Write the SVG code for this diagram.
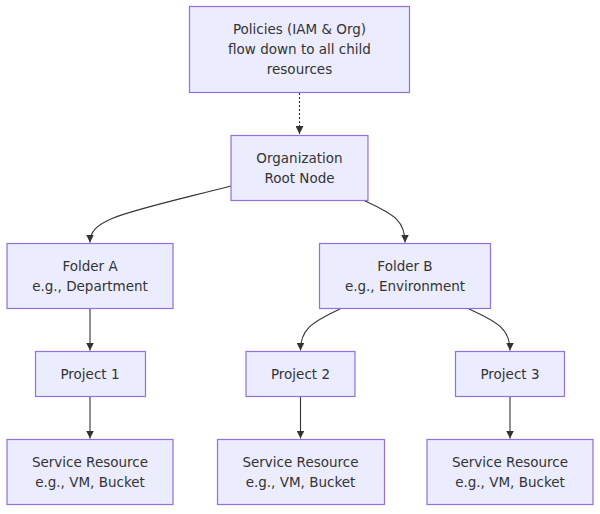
<svg xmlns="http://www.w3.org/2000/svg" width="600" height="514" viewBox="0 0 600 514">
<style>
.node rect{fill:#ECECFF;stroke:#9370DB;stroke-width:1.2px}
.node text{font-family:"DejaVu Sans",Verdana,sans-serif;font-size:13.5px;fill:#333;text-anchor:middle}
.edges path{fill:none;stroke:#333;stroke-width:1.1px}
.dotted{stroke-dasharray:2 2}
</style>
<defs>
<marker id="arr" viewBox="0 0 10 10" refX="10" refY="5" markerWidth="8" markerHeight="8" markerUnits="userSpaceOnUse" orient="auto">
<path d="M0,0 L10,5 L0,10 z" fill="#333"/>
</marker>
</defs>
<rect width="600" height="514" fill="#ffffff"/>
<g class="edges">
<path class="dotted" d="M299.5,93 L299.5,134" marker-end="url(#arr)"/>
<path d="M231,186 C125,213 90,218 90,242.5" marker-end="url(#arr)"/>
<path d="M365,201 C396,215 405,222 405,242.5" marker-end="url(#arr)"/>
<path d="M90,309 L90,350.5" marker-end="url(#arr)"/>
<path d="M340,309 C310,323 300.5,330 300.5,350.5" marker-end="url(#arr)"/>
<path d="M469,309 C500,323 510,330 510,350.5" marker-end="url(#arr)"/>
<path d="M90,397 L90,438.5" marker-end="url(#arr)"/>
<path d="M300.5,397 L300.5,438.5" marker-end="url(#arr)"/>
<path d="M510,397 L510,438.5" marker-end="url(#arr)"/>
</g>
<g id="policies" class="node"><rect x="189.5" y="6.5" width="220" height="86"/><text x="299.5" y="33.5">Policies (IAM &amp; Org)</text><text x="299.5" y="53.5">flow down to all child</text><text x="299.5" y="73.5">resources</text></g>
<g id="org" class="node"><rect x="231" y="135.5" width="137" height="65"/><text x="299.5" y="162.5">Organization</text><text x="299.5" y="182.5">Root Node</text></g>
<g id="folderA" class="node"><rect x="7" y="243.5" width="166" height="65"/><text x="90" y="270.5">Folder A</text><text x="90" y="290.5">e.g., Department</text></g>
<g id="folderB" class="node"><rect x="319.5" y="243.5" width="171" height="65"/><text x="405" y="270.5">Folder B</text><text x="405" y="290.5">e.g., Environment</text></g>
<g id="project1" class="node"><rect x="35.5" y="351.5" width="110" height="45"/><text x="90" y="378.5">Project 1</text></g>
<g id="project2" class="node"><rect x="246" y="351.5" width="109" height="45"/><text x="300.5" y="378.5">Project 2</text></g>
<g id="project3" class="node"><rect x="455.5" y="351.5" width="109" height="45"/><text x="510" y="378.5">Project 3</text></g>
<g id="service1" class="node"><rect x="7" y="439.5" width="166" height="65"/><text x="90" y="466.5">Service Resource</text><text x="90" y="486.5">e.g., VM, Bucket</text></g>
<g id="service2" class="node"><rect x="217.5" y="439.5" width="167" height="65"/><text x="300.5" y="466.5">Service Resource</text><text x="300.5" y="486.5">e.g., VM, Bucket</text></g>
<g id="service3" class="node"><rect x="427" y="439.5" width="166" height="65"/><text x="510" y="466.5">Service Resource</text><text x="510" y="486.5">e.g., VM, Bucket</text></g>
</svg>
